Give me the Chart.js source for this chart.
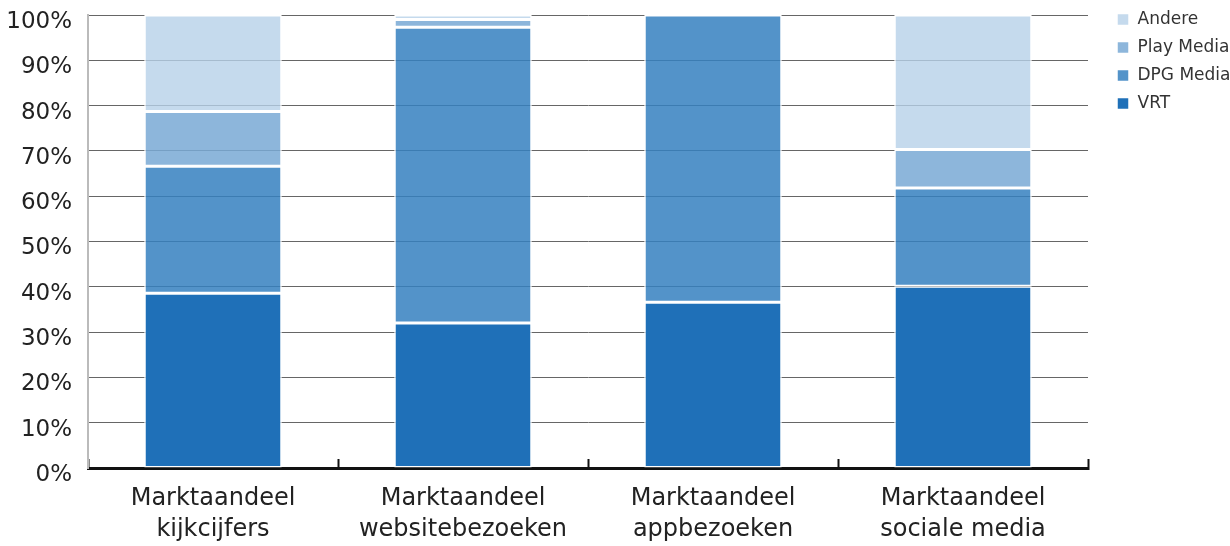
<!DOCTYPE html>
<html lang="nl">
  <head>
    <meta charset="UTF-8" />
    <script src="https://cdn.jsdelivr.net/npm/chart.js"></script>
    <title>Marktaandeel</title>
    <style>
      body { margin: 0; background: #fff; }
      #wrap { width: 1230px; height: 546px; }
    </style>
  </head>
  <body>
    <div id="wrap"><canvas id="myChart" width="1230" height="546"></canvas></div>
    <script>
      var categorieen = [
        ["Marktaandeel", "kijkcijfers"],
        ["Marktaandeel", "websitebezoeken"],
        ["Marktaandeel", "appbezoeken"],
        ["Marktaandeel", "sociale media"],
      ];
      var vrt = [38.6, 32.0, 36.6, 40.1];
      var dpg = [28.0, 65.3, 63.4, 21.7];
      var play = [12.1, 1.7, 0, 8.5];
      var andere = [21.3, 1.0, 0, 29.7];

      var lettertype = "'DejaVu Sans', sans-serif";

      var ctx = document.getElementById("myChart");
      var myChart = new Chart(ctx, {
        type: "bar",
        data: {
          labels: categorieen,
          datasets: [
            { label: "VRT", data: vrt, backgroundColor: "#1f70b8" },
            { label: "DPG Media", data: dpg, backgroundColor: "rgba(53,128,191,0.85)" },
            { label: "Play Media", data: play, backgroundColor: "rgba(121,169,213,0.85)" },
            { label: "Andere", data: andere, backgroundColor: "rgba(183,209,233,0.8)" },
          ],
        },
        options: {
          responsive: false,
          animation: false,
          layout: { padding: 0 },
          datasets: {
            bar: {
              borderColor: "#ffffff",
              borderWidth: 1.5,
              borderSkipped: false,
              categoryPercentage: 1,
              barPercentage: 0.55,
            },
          },
          plugins: {
            legend: {
              position: "right",
              align: "start",
              reverse: true,
              maxWidth: 124,
              labels: {
                boxWidth: 12,
                boxHeight: 12,
                padding: 11,
                color: "#333",
                font: { family: lettertype, size: 17 },
              },
            },
            tooltip: { enabled: false },
          },
          scales: {
            x: {
              stacked: true,
              border: { display: true, color: "#111", width: 3 },
              grid: {
                display: true,
                drawOnChartArea: false,
                drawTicks: true,
                tickLength: -9,
                tickColor: "#111",
                tickWidth: 2,
                offset: true,
              },
              ticks: {
                color: "#222",
                padding: 24,
                font: { family: lettertype, size: 24, lineHeight: 1.3 },
              },
              afterFit: function (scale) {
                scale.height = 78;
              },
            },
            y: {
              stacked: true,
              min: 0,
              max: 100,
              border: { display: true, color: "#bbb", width: 2 },
              grid: { color: "#666", drawTicks: false },
              ticks: {
                stepSize: 10,
                padding: 16,
                labelOffset: 7,
                color: "#222",
                font: { family: lettertype, size: 23 },
                callback: function (v) { return v + "%"; },
              },
              afterFit: function (scale) {
                scale.width = 88;
                scale.paddingTop = 15;
              },
            },
            ruimte: {
              type: "linear",
              position: "right",
              display: true,
              grid: { display: false },
              border: { display: false },
              ticks: { display: false },
              afterFit: function (scale) {
                scale.width = 18;
              },
            },
          },
        },
      });
    </script>
  </body>
</html>
